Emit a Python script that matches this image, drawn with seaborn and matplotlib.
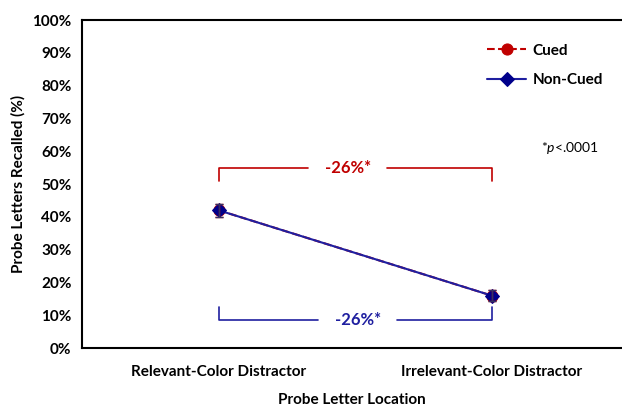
import numpy as np
import pandas as pd
import matplotlib
matplotlib.use("Agg")
import matplotlib.pyplot as plt
import seaborn as sns
from matplotlib.ticker import PercentFormatter, FixedLocator

# Recall of probe letters by location
categories = ["Relevant-Color Distractor", "Irrelevant-Color Distractor"]
cued = [42.0, 16.0]
cued_err = [2.0, 1.8]
noncued = [42.0, 16.0]
noncued_err = [2.0, 1.8]
diff_label = "-26%*"

sns.set_theme(style="white")
plt.rcParams["font.family"] = ["Lato", "DejaVu Sans"]
plt.rcParams["mathtext.fontset"] = "custom"
plt.rcParams["mathtext.it"] = "Lato:italic"
plt.rcParams["mathtext.rm"] = "Lato"
for key in ["text.color", "axes.labelcolor", "xtick.color", "ytick.color"]:
    plt.rcParams[key] = "black"

df = pd.DataFrame({
    "pos": [0, 1, 0, 1],
    "recall": cued + noncued,
    "group": ["Cued"] * 2 + ["Non-Cued"] * 2,
})

fig = plt.figure(figsize=(6.22, 4.07), dpi=100)
ax = fig.add_axes([82 / 622, 59 / 407, 1 - 82 / 622, 328 / 407])

red = "#C00000"
blue = "#1F1FA0"
navy = "#00008B"

sns.lineplot(data=df[df.group == "Cued"], x="pos", y="recall", ax=ax,
             color=red, linestyle="--", lw=1.5, marker="o", markersize=8,
             markeredgecolor=red, label="Cued")
sns.lineplot(data=df[df.group == "Non-Cued"], x="pos", y="recall", ax=ax,
             color=blue, lw=1.5, marker="D", markersize=7,
             markerfacecolor=navy, markeredgecolor=navy, label="Non-Cued")
x = np.arange(len(categories))
ax.errorbar(x, cued, yerr=cued_err, fmt="none", ecolor=red, elinewidth=1, capsize=3)
ax.errorbar(x, noncued, yerr=noncued_err, fmt="none", ecolor="#333366", elinewidth=1, capsize=3)

ax.set_xlim(-0.5, -0.5 + 540 / 273)
ax.set_ylim(0, 100)
ax.set_xticks(x)
ax.set_xticklabels(categories, fontsize=11, fontweight="bold")
ax.xaxis.set_minor_locator(FixedLocator([0.5]))
ax.tick_params(axis="x", which="major", length=0, pad=12)
ax.tick_params(axis="x", which="minor", direction="in", length=4, width=1, color="black")
ax.set_yticks(np.arange(0, 101, 10))
ax.yaxis.set_major_formatter(PercentFormatter(decimals=0))
ax.tick_params(axis="y", direction="out", length=4, width=1, color="black", labelsize=11)
for lab in ax.get_yticklabels():
    lab.set_fontweight("bold")

for side in ["left", "bottom", "top"]:
    ax.spines[side].set_color("black")
    ax.spines[side].set_linewidth(1.5)
ax.spines["right"].set_visible(False)

ax.set_xlabel("Probe Letter Location", fontsize=11, fontweight="bold", labelpad=10)
ax.set_ylabel("Probe Letters Recalled (%)", fontsize=11, fontweight="bold", labelpad=5)

# difference brackets
def bracket(y_bar, y_end, xc, color):
    gap = 0.145
    ax.plot([0, 0, xc - gap], [y_end, y_bar, y_bar], color=color, lw=1.2)
    ax.plot([xc + gap, 1, 1], [y_bar, y_bar, y_end], color=color, lw=1.2)
    ax.text(xc, y_bar, diff_label, color=color, fontsize=12, fontweight="bold",
            ha="center", va="center")

bracket(55, 51, 0.474, red)
bracket(8.5, 12.5, 0.51, blue)

ax.text(1.18, 61, r"*$\it{p}$<.0001", fontsize=10, ha="left", va="center")

leg = ax.legend(loc="upper right", bbox_to_anchor=(0.99, 0.97), frameon=False,
                handlelength=2.6, fontsize=11, labelspacing=1.0, handletextpad=0.4)
for t in leg.get_texts():
    t.set_fontweight("bold")

fig.savefig("out.png", dpi=100)
